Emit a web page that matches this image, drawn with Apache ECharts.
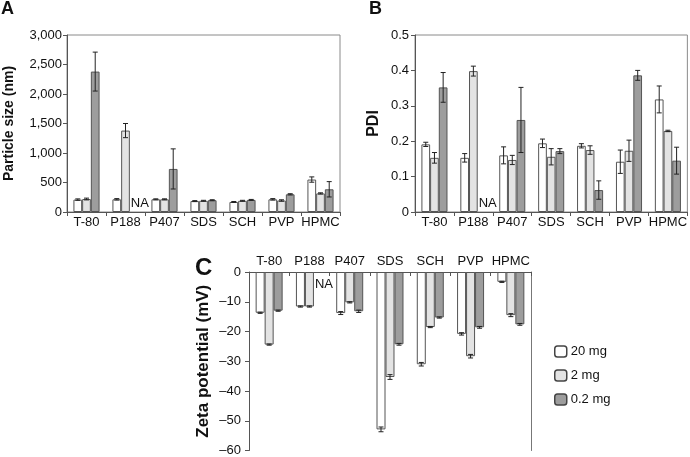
<!DOCTYPE html>
<html>
<head>
<meta charset="utf-8">
<script src="https://cdn.jsdelivr.net/npm/echarts@6/dist/echarts.min.js"></script>
<style>
html,body{margin:0;padding:0;background:#fff;}
#chart{width:690px;height:457px;}
</style>
</head>
<body>
<div id="chart"></div>
<script>
// ---------- data ----------
const categories = ['T-80', 'P188', 'P407', 'SDS', 'SCH', 'PVP', 'HPMC'];
const seriesNames = ['20 mg', '2 mg', '0.2 mg'];

// Panel A: particle size (nm)
const size20 = [210, 215, 215, 185, 170, 215, 550];
const size2 = [220, 1380, 215, 190, 190, 195, 315];
const size02 = [2380, null, 730, 200, 205, 300, 385];
const sizeErr20 = [12, 12, 8, 8, 8, 12, 45];
const sizeErr2 = [15, 120, 8, 8, 8, 12, 10];
const sizeErr02 = [330, null, 340, 8, 8, 10, 130];
const sizeTicks = [0, 500, 1000, 1500, 2000, 2500, 3000];

// Panel B: PDI
const pdi20 = [0.191, 0.153, 0.160, 0.194, 0.187, 0.142, 0.318];
const pdi2 = [0.153, 0.398, 0.147, 0.156, 0.175, 0.173, 0.229];
const pdi02 = [0.352, null, 0.260, 0.172, 0.062, 0.386, 0.145];
const pdiErr20 = [0.006, 0.012, 0.024, 0.012, 0.006, 0.033, 0.038];
const pdiErr2 = [0.015, 0.014, 0.013, 0.023, 0.012, 0.030, 0.002];
const pdiErr02 = [0.042, null, 0.092, 0.007, 0.026, 0.014, 0.038];

// Panel C: zeta potential (mV)
const zeta20 = [-13.7, -11.6, -13.8, -52.9, -31.0, -20.8, -3.3];
const zeta2 = [-24.4, -11.6, -10.2, -35.3, -18.5, -28.3, -14.5];
const zeta02 = [-13.0, null, -13.2, -24.3, -15.3, -18.6, -17.6];
const zetaErr20 = [0.2, 0.2, 0.5, 0.8, 0.6, 0.4, 0.2];
const zetaErr2 = [0.2, 0.2, 0.2, 0.8, 0.2, 0.6, 0.5];
const zetaErr02 = [0.2, null, 0.4, 0.3, 0.2, 0.3, 0.3];

// ---------- styles ----------
const FONT = 'Liberation Sans, Arial, sans-serif';
const fills = ['#ffffff', '#e3e3e3', '#9d9d9d'];
const BAR_FRAC = 0.67;

function barSeries(ai, name, k, vals) {
  return {
    type: 'bar', name: name, xAxisIndex: ai, yAxisIndex: ai,
    data: vals.map(v => v == null ? '-' : v),
    barGap: '0%', barCategoryGap: '33%',
    itemStyle: { color: fills[k], borderColor: '#555', borderWidth: 1 },
    silent: true
  };
}

function errSeries(ai, vals, errs, k) {
  const data = [];
  vals.forEach((v, i) => { if (v != null) data.push([i, v, errs[i]]); });
  return {
    type: 'custom', name: 'err' + ai + k, xAxisIndex: ai, yAxisIndex: ai, z: 5, silent: true,
    data: data,
    renderItem: function (params, api) {
      const i = api.value(0), v = api.value(1), e = api.value(2);
      const bw = api.size([1, 0])[0] * BAR_FRAC / 3;
      const x = api.coord([i, v])[0] + (k - 1) * bw;
      const y1 = api.coord([i, v + e])[1];
      const y2 = api.coord([i, v - e])[1];
      const c = 2.5;
      const st = { stroke: '#222', lineWidth: 1 };
      return {
        type: 'group', children: [
          { type: 'line', shape: { x1: x, y1: y1, x2: x, y2: y2 }, style: st },
          { type: 'line', shape: { x1: x - c, y1: y1, x2: x + c, y2: y1 }, style: st },
          { type: 'line', shape: { x1: x - c, y1: y2, x2: x + c, y2: y2 }, style: st }
        ]
      };
    }
  };
}

function naSeries(ai, vals, k, below) {
  const data = [];
  vals.forEach((v, i) => { if (v == null) data.push([i, 0]); });
  return {
    type: 'custom', name: 'na' + ai, xAxisIndex: ai, yAxisIndex: ai, z: 6, silent: true,
    data: data,
    renderItem: function (params, api) {
      const i = api.value(0);
      const bw = api.size([1, 0])[0] * BAR_FRAC / 3;
      const p = api.coord([i, 0]);
      const x = p[0] + (k - 1) * bw - bw / 2 + 1;
      return {
        type: 'text',
        style: {
          x: x, y: below ? p[1] + 6 : p[1] - 2,
          text: 'NA', fill: '#111', font: '13px ' + FONT,
          align: 'left', verticalAlign: below ? 'top' : 'bottom'
        }
      };
    }
  };
}

function xAxisCfg(gi, top) {
  return {
    type: 'category', gridIndex: gi, data: categories,
    position: top ? 'top' : 'bottom',
    axisLine: { lineStyle: { color: '#555', width: 1 } },
    axisTick: { show: true, length: 4, inside: !!top, lineStyle: { color: '#555' } },
    axisLabel: { color: '#111', fontSize: 13, fontFamily: FONT, margin: 4, interval: 0 },
    splitLine: { show: false }
  };
}

function yAxisCfg(gi, min, max, interval, name, nameGap, nameSize, fmt, margin) {
  return {
    type: 'value', gridIndex: gi, min: min, max: max, interval: interval,
    name: name, nameLocation: 'middle', nameGap: nameGap,
    nameTextStyle: { fontSize: nameSize, fontWeight: 'bold', color: '#111', fontFamily: FONT },
    axisLine: { show: true, lineStyle: { color: '#555', width: 1 } },
    axisTick: { show: true, length: 4, lineStyle: { color: '#555' } },
    axisLabel: { color: '#111', fontSize: 13, fontFamily: FONT, margin: margin, formatter: fmt },
    splitLine: { show: false }
  };
}

const chart = echarts.init(document.getElementById('chart'), null, { renderer: 'canvas' });

const series = [];
const sets = [
  [size20, size2, size02, sizeErr20, sizeErr2, sizeErr02],
  [pdi20, pdi2, pdi02, pdiErr20, pdiErr2, pdiErr02],
  [zeta20, zeta2, zeta02, zetaErr20, zetaErr2, zetaErr02]
];
sets.forEach((s, ai) => {
  for (let k = 0; k < 3; k++) series.push(barSeries(ai, seriesNames[k], k, s[k]));
  for (let k = 0; k < 3; k++) series.push(errSeries(ai, s[k], s[k + 3], k));
  for (let k = 0; k < 3; k++) series.push(naSeries(ai, s[k], k, ai === 2));
});

const option = {
  animation: false,
  backgroundColor: '#fff',
  textStyle: { fontFamily: FONT },
  grid: [
    { left: 67, top: 35, width: 273, height: 177, show: true, borderColor: '#8a8a8a', borderWidth: 1, backgroundColor: 'transparent' },
    { left: 415, top: 35, width: 273, height: 177, show: true, borderColor: '#8a8a8a', borderWidth: 1, backgroundColor: 'transparent' },
    { left: 249, top: 272, width: 282, height: 181 }
  ],
  xAxis: [xAxisCfg(0, false), xAxisCfg(1, false), xAxisCfg(2, true)],
  yAxis: [
    yAxisCfg(0, sizeTicks[0], sizeTicks[sizeTicks.length - 1], 500, 'Particle size (nm)', 51, 14,
      v => v.toLocaleString('en-US'), 5),
    yAxisCfg(1, 0, 0.5, 0.1, 'PDI', 33, 16, v => v === 0 ? '0' : v.toFixed(1), 6),
    yAxisCfg(2, -60, 0, 10, 'Zeta potential (mV)', 37, 17, v => v < 0 ? '\u2013' + Math.abs(v) : String(v), 8),
    { type: 'value', gridIndex: 2, min: -60, max: 0, position: 'right',
      axisLine: { show: true, lineStyle: { color: '#777' } }, axisTick: { show: false },
      axisLabel: { show: false }, splitLine: { show: false } }
  ],
  legend: {
    data: seriesNames, orient: 'vertical', left: 549, top: 340,
    itemWidth: 12, itemHeight: 11, itemGap: 11, icon: 'roundRect',
    itemStyle: { borderColor: '#444', borderWidth: 1.5 },
    textStyle: { fontSize: 13, color: '#111', fontFamily: FONT, padding: [0, 0, 0, -1] },
    selectedMode: false
  },
  graphic: [
    { type: 'text', left: 1, top: 0, style: { text: 'A', font: 'bold 18px ' + FONT, fill: '#111' } },
    { type: 'text', left: 369, top: 0, style: { text: 'B', font: 'bold 18px ' + FONT, fill: '#111' } },
    { type: 'text', left: 195, top: 256, style: { text: 'C', font: 'bold 24px ' + FONT, fill: '#111' } }
  ],
  series: series
};
chart.setOption(option);
</script>
</body>
</html>
